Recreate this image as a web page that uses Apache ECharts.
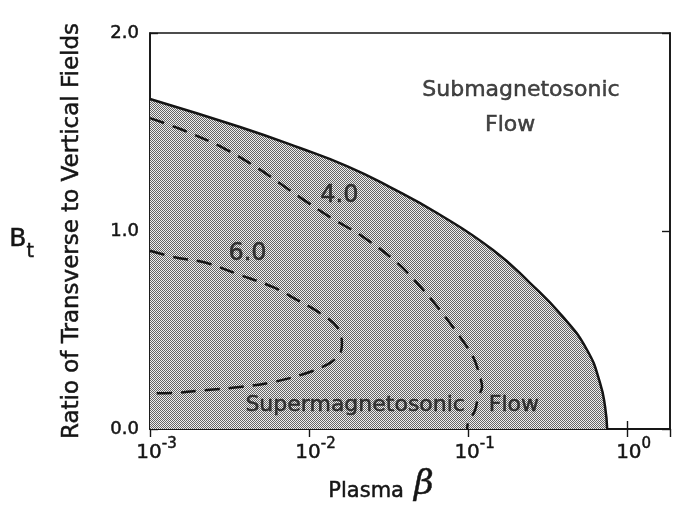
<!DOCTYPE html>
<html>
<head>
<meta charset="utf-8">
<script src="https://cdn.jsdelivr.net/npm/echarts@6/dist/echarts.min.js"></script>
<style>
  html, body { margin: 0; padding: 0; background: #fff; }
  #chart { width: 673px; height: 511px; }
</style>
</head>
<body>
<div id="chart"></div>
<script>
// Boundary between super- and submagnetosonic flow (solid line, shaded below)
const boundaryBeta = [0.001, 0.00368, 0.00877, 0.0173, 0.0323, 0.0638, 0.1435, 0.2455, 0.395, 0.56, 0.676, 0.727, 0.749];
const boundaryBt   = [1.667, 1.525, 1.419, 1.328, 1.222, 1.091, 0.904, 0.737, 0.566, 0.399, 0.232, 0.111, 0.0];

// Contour 4.0 (dashed)
const curve40Beta = [0.001, 0.00161, 0.00288, 0.00471, 0.00658, 0.00877, 0.01355, 0.0219, 0.0358, 0.0499, 0.0667, 0.0853, 0.1075, 0.119, 0.1225, 0.1156, 0.1107, 0.100, 0.0986];
const curve40Bt   = [1.57, 1.51, 1.42, 1.32, 1.24, 1.17, 1.07, 0.97, 0.84, 0.72, 0.60, 0.485, 0.364, 0.263, 0.212, 0.162, 0.096, 0.03, 0.0];

// Contour 6.0 (dashed, closed back onto the left edge)
const curve60Beta = [0.001, 0.0014, 0.00228, 0.00368, 0.00594, 0.0084, 0.0117, 0.0150, 0.0161, 0.0157, 0.0135, 0.0097, 0.00594, 0.00368, 0.00228, 0.0014, 0.001];
const curve60Bt   = [0.90, 0.869, 0.838, 0.778, 0.717, 0.652, 0.586, 0.515, 0.434, 0.384, 0.333, 0.283, 0.237, 0.212, 0.197, 0.182, 0.18];

// Contour labels
const contourLabels = ['4.0', '6.0'];
const contourLabelBeta = [0.0155, 0.0041];
const contourLabelBt = [1.18, 0.885];

// Region labels
const regionLabels = ['Submagnetosonic', 'Flow', 'Supermagnetosonic', 'Flow'];
const regionLabelBeta = [0.215, 0.184, 0.0195, 0.194];
const regionLabelBt = [1.712, 1.535, 0.121, 0.121];

// Axis tick labels
const yTickLabels = ['0.0', '1.0', '2.0'];

const zip = (xs, ys) => xs.map((x, i) => [x, ys[i]]);

// Halftone-like stipple used for the supermagnetosonic region
const tile = document.createElement('canvas');
tile.width = 2; tile.height = 2;
const tctx = tile.getContext('2d');
tctx.fillStyle = '#efefef';
tctx.fillRect(0, 0, 2, 2);
tctx.fillStyle = '#646464';
tctx.fillRect(0, 0, 1, 1);
tctx.fillRect(1, 1, 1, 1);

const FONT = '"DejaVu Sans", sans-serif';
const INK = '#151515';

const chart = echarts.init(document.getElementById('chart'), null, { renderer: 'canvas' });

const dashedLine = {
  type: 'line',
  showSymbol: false,
  smooth: 0.35,
  silent: true,
  lineStyle: { color: INK, width: 2.5, type: [15, 9] },
  z: 4
};

const decadeLabel = (v) => {
  const e = Math.log10(v);
  const r = Math.round(e);
  if (Math.abs(e - r) > 1e-6) return '';
  return '{b|10}{s|' + r + '}';
};

const inkText = { color: INK, textBorderColor: INK, textBorderWidth: 0.5 };

chart.setOption({
  animation: false,
  backgroundColor: '#ffffff',
  grid: { left: 150, right: 3, top: 33, bottom: 82, show: true, borderColor: INK, borderWidth: 1.6, backgroundColor: 'transparent' },
  xAxis: [
    {
      type: 'log', logBase: 10, min: 0.001, max: 1.86,
      name: '{p|Plasma}   {g|β}',
      nameLocation: 'middle', nameGap: 27,
      nameTextStyle: {
        padding: [0, 58, 0, 0],
        rich: {
          p: Object.assign({ fontFamily: FONT, fontSize: 21, verticalAlign: 'bottom', lineHeight: 34 }, inkText),
          g: Object.assign({ fontFamily: 'DejaVu Serif, serif', fontStyle: 'italic', fontSize: 34, verticalAlign: 'bottom', lineHeight: 34 }, inkText)
        }
      },
      axisLine: { show: true, lineStyle: { color: INK, width: 1.6 } },
      axisTick: { show: true, inside: true, length: 8, lineStyle: { color: INK, width: 1.4 } },
      minorTick: { show: false },
      splitLine: { show: false },
      axisLabel: {
        margin: 8,
        showMaxLabel: false,
        formatter: decadeLabel,
        padding: [0, 0, 0, 13],
        rich: {
          b: Object.assign({ fontFamily: FONT, fontSize: 20, verticalAlign: 'bottom', lineHeight: 26 }, inkText),
          s: Object.assign({ fontFamily: FONT, fontSize: 15, verticalAlign: 'top', lineHeight: 26 }, inkText)
        }
      }
    },
    {
      type: 'log', logBase: 10, min: 0.001, max: 1.86, position: 'top',
      axisLine: { show: true, lineStyle: { color: INK, width: 1.6 } },
      axisTick: { show: true, inside: true, length: 8, lineStyle: { color: INK, width: 1.4 } },
      axisLabel: { show: false },
      splitLine: { show: false }
    }
  ],
  yAxis: [
    {
      type: 'value', min: 0, max: 2, interval: 1,
      name: 'Ratio of Transverse to Vertical Fields',
      nameLocation: 'middle', nameRotate: 90, nameGap: 66,
      nameTextStyle: Object.assign({ fontFamily: FONT, fontSize: 23 }, inkText),
      axisLine: { show: true, lineStyle: { color: INK, width: 1.6 } },
      axisTick: { show: true, inside: true, length: 8, lineStyle: { color: INK, width: 1.4 } },
      splitLine: { show: false },
      axisLabel: Object.assign({
        margin: 11,
        fontFamily: FONT, fontSize: 18,
        formatter: (v) => yTickLabels[Math.round(v)]
      }, inkText)
    },
    {
      type: 'value', min: 0, max: 2, interval: 1, position: 'right',
      axisLine: { show: true, lineStyle: { color: INK, width: 1.6 } },
      axisTick: { show: true, inside: true, length: 8, lineStyle: { color: INK, width: 1.4 } },
      axisLabel: { show: false },
      splitLine: { show: false }
    }
  ],
  graphic: [
    {
      type: 'text', left: 9, top: 227, silent: true,
      style: {
        text: '{B|B}{t|t}',
        rich: {
          B: { fontFamily: FONT, fontSize: 25, fill: INK, stroke: INK, lineWidth: 0.5, verticalAlign: 'top', lineHeight: 34 },
          t: { fontFamily: FONT, fontSize: 19, fill: INK, stroke: INK, lineWidth: 0.5, verticalAlign: 'bottom', lineHeight: 34 }
        }
      }
    }
  ],
  series: [
    {
      name: 'boundary',
      type: 'line',
      data: zip(boundaryBeta, boundaryBt),
      showSymbol: false,
      smooth: 0.5,
      silent: true,
      lineStyle: { color: INK, width: 2.5 },
      areaStyle: { color: { image: tile, repeat: 'repeat' }, opacity: 1, origin: 'start' },
      z: 3
    },
    Object.assign({ name: 'contour 4.0', data: zip(curve40Beta, curve40Bt) }, dashedLine),
    Object.assign({ name: 'contour 6.0', data: zip(curve60Beta, curve60Bt) }, dashedLine),
    {
      name: 'contour labels',
      type: 'scatter',
      silent: true,
      symbolSize: 1,
      itemStyle: { color: 'rgba(0,0,0,0)' },
      data: contourLabels.map((t, i) => [contourLabelBeta[i], contourLabelBt[i], t]),
      label: Object.assign({
        show: true, position: 'inside',
        formatter: (p) => p.data[2],
        fontFamily: FONT, fontSize: 24
      }, inkText),
      z: 5
    },
    {
      name: 'region labels',
      type: 'scatter',
      silent: true,
      symbolSize: 1,
      itemStyle: { color: 'rgba(0,0,0,0)' },
      data: regionLabels.map((t, i) => [regionLabelBeta[i], regionLabelBt[i], t]),
      label: Object.assign({
        show: true, position: 'inside',
        formatter: (p) => p.data[2],
        fontFamily: FONT, fontSize: 22
      }, inkText),
      z: 5
    }
  ]
});
</script>
</body>
</html>
